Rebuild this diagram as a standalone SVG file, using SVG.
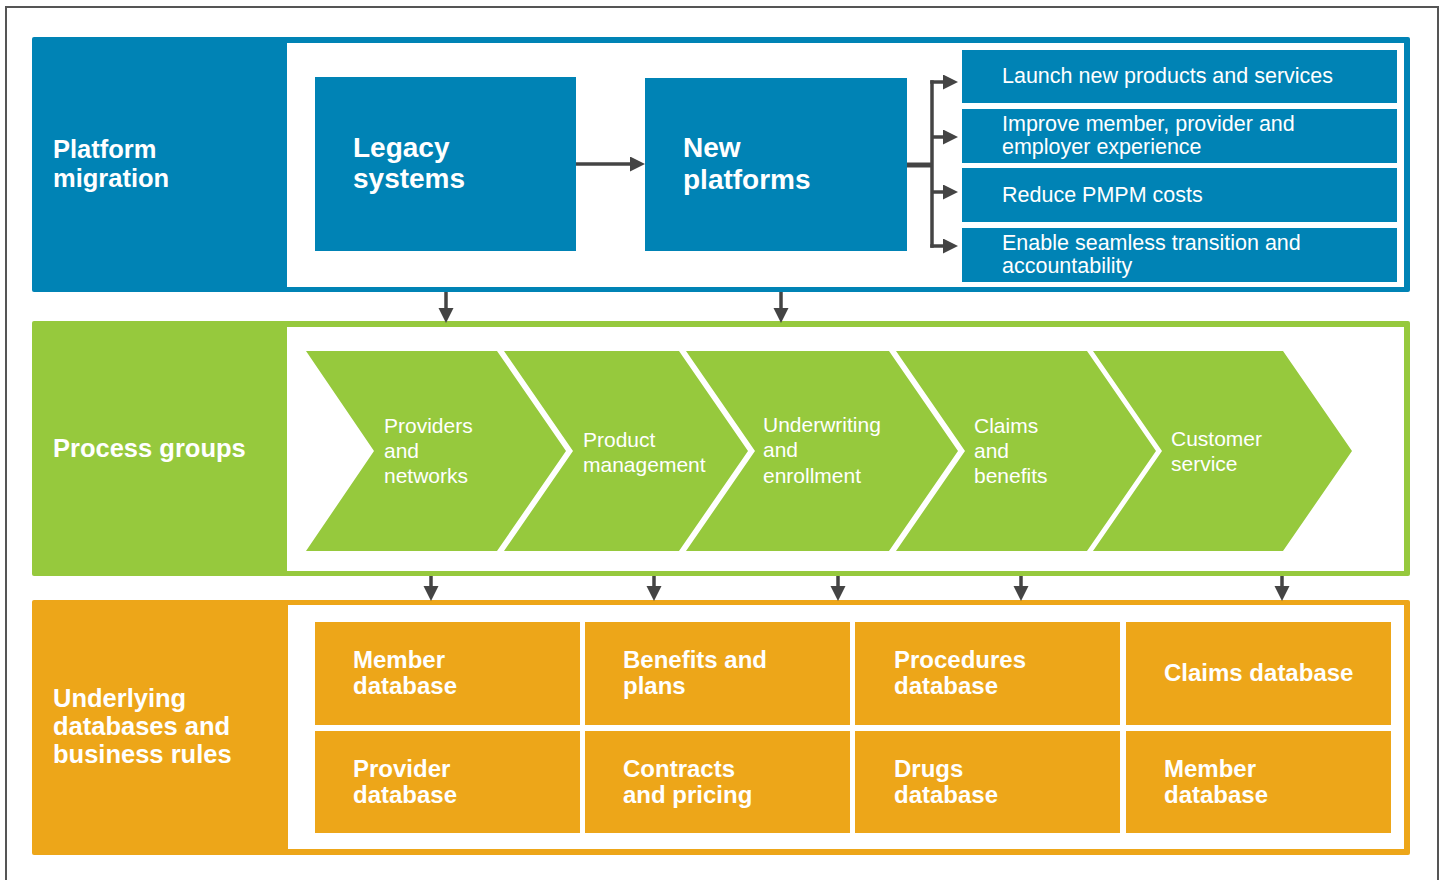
<svg xmlns="http://www.w3.org/2000/svg" width="1443" height="880" viewBox="0 0 1443 880">
<defs>
<marker id="ah" markerUnits="userSpaceOnUse" markerWidth="16" markerHeight="16" refX="4" refY="7.5" orient="auto">
<path d="M0,0 L15,7.5 L0,15 z" fill="#444"/>
</marker>
<style>
text{font-family:"Liberation Sans",Arial,sans-serif;fill:#fff}
.sec{font-size:25.5px;font-weight:bold}
.big{font-size:28px;font-weight:bold}
.goal{font-size:21.5px}
.chev{font-size:21px}
.db{font-size:24px;font-weight:bold}
.blue{fill:#0083B5}
.green{fill:#96C93D}
.orange{fill:#EDA619}
.inner{fill:#fff}
.conn{stroke:#444;stroke-width:3.5;fill:none}
.stem{stroke:#444;stroke-width:5;fill:none}
.arr{stroke:#444;stroke-width:3.5;fill:none;marker-end:url(#ah)}
</style>
</defs>
<rect x="0" y="0" width="1443" height="880" fill="#fff"/>
<rect x="6" y="7" width="1432" height="900" fill="none" stroke="#555" stroke-width="2"/>

<g id="platform-migration">
<rect class="blue" x="32" y="37" width="1378" height="255" rx="2"/>
<rect class="inner" x="287" y="43" width="1117" height="244"/>
<text class="sec" x="53" y="158">Platform</text>
<text class="sec" x="53" y="187">migration</text>
</g>
<g id="legacy-systems">
<rect class="blue" x="315" y="77" width="261" height="174"/>
<text class="big" x="353" y="157">Legacy</text>
<text class="big" x="353" y="188">systems</text>
</g>
<g id="new-platforms">
<rect class="blue" x="645" y="78" width="262" height="173"/>
<text class="big" x="683" y="157">New</text>
<text class="big" x="683" y="189">platforms</text>
</g>
<g id="goal-launch">
<rect class="blue" x="962" y="50" width="435" height="53"/>
<text class="goal" x="1002" y="83">Launch new products and services</text>
</g>
<g id="goal-improve">
<rect class="blue" x="962" y="109" width="435" height="54"/>
<text class="goal" x="1002" y="131">Improve member, provider and</text>
<text class="goal" x="1002" y="154">employer experience</text>
</g>
<g id="goal-reduce">
<rect class="blue" x="962" y="168" width="435" height="54"/>
<text class="goal" x="1002" y="202">Reduce PMPM costs</text>
</g>
<g id="goal-enable">
<rect class="blue" x="962" y="228" width="435" height="54"/>
<text class="goal" x="1002" y="250">Enable seamless transition and</text>
<text class="goal" x="1002" y="273">accountability</text>
</g>

<g id="process-groups">
<rect class="green" x="32" y="321" width="1378" height="255" rx="2"/>
<rect class="inner" x="287" y="327" width="1117" height="244"/>
<text class="sec" x="53" y="457">Process groups</text>
</g>
<g id="chev-providers">
<polygon class="green" points="306,351 497,351 566,451 497,551 306,551 374,451"/>
<text class="chev" x="384" y="433">Providers</text>
<text class="chev" x="384" y="458">and</text>
<text class="chev" x="384" y="483">networks</text>
</g>
<g id="chev-product">
<polygon class="green" points="504,351 679,351 748,451 679,551 504,551 573,451"/>
<text class="chev" x="583" y="447">Product</text>
<text class="chev" x="583" y="472">management</text>
</g>
<g id="chev-underwriting">
<polygon class="green" points="686,351 889,351 958,451 889,551 686,551 755,451"/>
<text class="chev" x="763" y="432">Underwriting</text>
<text class="chev" x="763" y="457">and</text>
<text class="chev" x="763" y="483">enrollment</text>
</g>
<g id="chev-claims">
<polygon class="green" points="896,351 1087,351 1156,451 1087,551 896,551 965,451"/>
<text class="chev" x="974" y="433">Claims</text>
<text class="chev" x="974" y="458">and</text>
<text class="chev" x="974" y="483">benefits</text>
</g>
<g id="chev-customer">
<polygon class="green" points="1093,351 1283,351 1352,451 1283,551 1093,551 1162,451"/>
<text class="chev" x="1171" y="446">Customer</text>
<text class="chev" x="1171" y="471">service</text>
</g>

<g id="databases">
<rect class="orange" x="32" y="600" width="1378" height="255" rx="2"/>
<rect class="inner" x="288" y="605" width="1116" height="244"/>
<text class="sec" x="53" y="707">Underlying</text>
<text class="sec" x="53" y="735">databases and</text>
<text class="sec" x="53" y="763">business rules</text>
</g>
<g id="db-member-1">
<rect class="orange" x="315" y="622" width="265" height="103"/>
<text class="db" x="353" y="668">Member</text>
<text class="db" x="353" y="694">database</text>
</g>
<g id="db-benefits">
<rect class="orange" x="585" y="622" width="265" height="103"/>
<text class="db" x="623" y="668">Benefits and</text>
<text class="db" x="623" y="694">plans</text>
</g>
<g id="db-procedures">
<rect class="orange" x="855" y="622" width="265" height="103"/>
<text class="db" x="894" y="668">Procedures</text>
<text class="db" x="894" y="694">database</text>
</g>
<g id="db-claims">
<rect class="orange" x="1126" y="622" width="265" height="103"/>
<text class="db" x="1164" y="681">Claims database</text>
</g>
<g id="db-provider">
<rect class="orange" x="315" y="731" width="265" height="102"/>
<text class="db" x="353" y="777">Provider</text>
<text class="db" x="353" y="803">database</text>
</g>
<g id="db-contracts">
<rect class="orange" x="585" y="731" width="265" height="102"/>
<text class="db" x="623" y="777">Contracts</text>
<text class="db" x="623" y="803">and pricing</text>
</g>
<g id="db-drugs">
<rect class="orange" x="855" y="731" width="265" height="102"/>
<text class="db" x="894" y="777">Drugs</text>
<text class="db" x="894" y="803">database</text>
</g>
<g id="db-member-2">
<rect class="orange" x="1126" y="731" width="265" height="102"/>
<text class="db" x="1164" y="777">Member</text>
<text class="db" x="1164" y="803">database</text>
</g>

<g id="connectors">
<line class="arr" x1="576" y1="164" x2="634" y2="164"/>
<line class="stem" x1="907" y1="165" x2="932" y2="165"/>
<line class="conn" x1="932" y1="80.25" x2="932" y2="247.75"/>
<line class="arr" x1="930.25" y1="82" x2="947" y2="82"/>
<line class="arr" x1="932" y1="137" x2="947" y2="137"/>
<line class="arr" x1="932" y1="192" x2="947" y2="192"/>
<line class="arr" x1="930.25" y1="246" x2="947" y2="246"/>
<line class="arr" x1="446" y1="292" x2="446" y2="312"/>
<line class="arr" x1="781" y1="292" x2="781" y2="312"/>
<line class="arr" x1="431" y1="576" x2="431" y2="590"/>
<line class="arr" x1="654" y1="576" x2="654" y2="590"/>
<line class="arr" x1="838" y1="576" x2="838" y2="590"/>
<line class="arr" x1="1021" y1="576" x2="1021" y2="590"/>
<line class="arr" x1="1282" y1="576" x2="1282" y2="590"/>
</g>
</svg>
